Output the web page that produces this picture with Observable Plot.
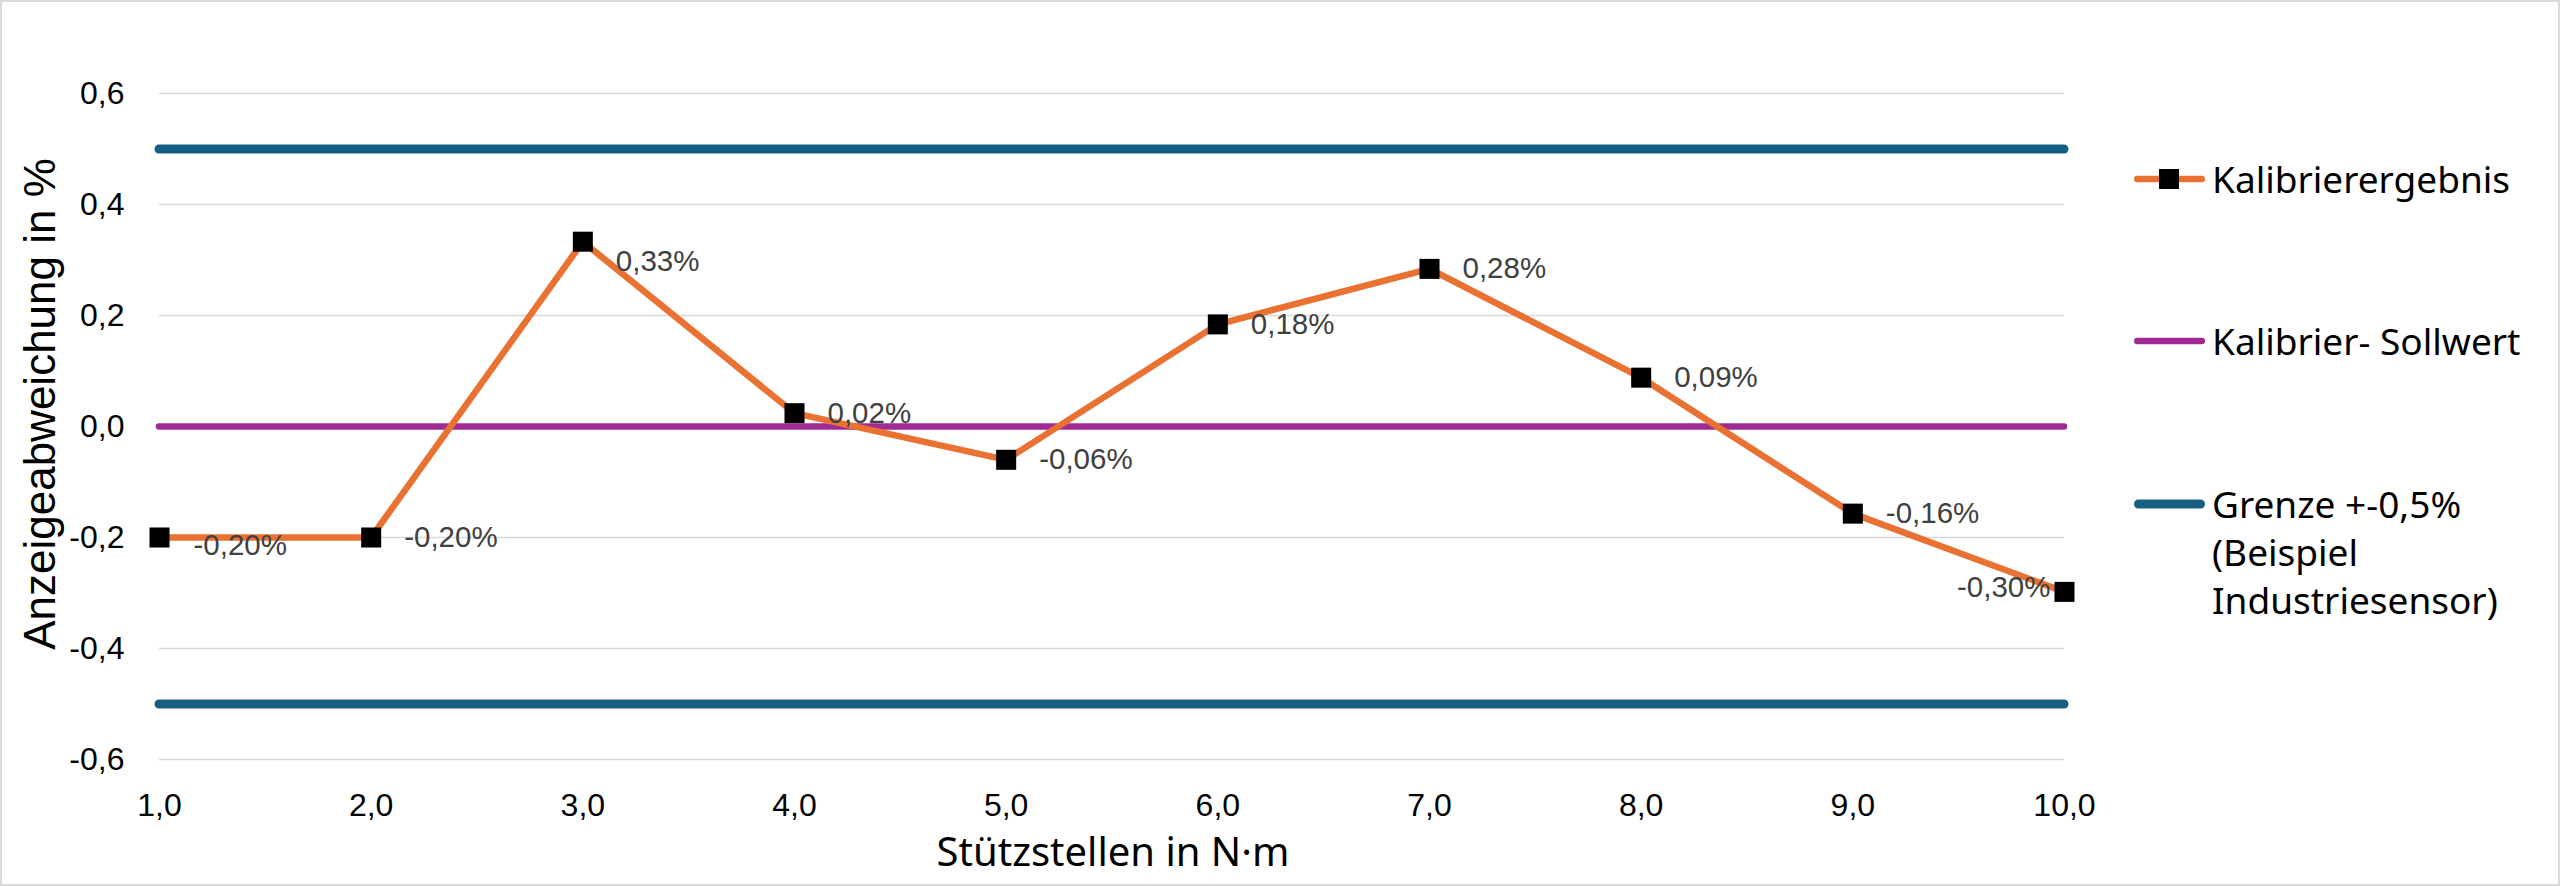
<!DOCTYPE html>
<html>
<head>
<meta charset="utf-8">
<script src="https://cdn.jsdelivr.net/npm/d3@7"></script>
<script src="https://cdn.jsdelivr.net/npm/@observablehq/plot@0.6"></script>
<style>
  body { margin: 0; background: #fff; }
  #wrap { position: relative; width: 2560px; height: 886px; overflow: hidden; background: #fff; }
  #chart { position: absolute; left: 0; top: 0; }
  #frame { position: absolute; left: 0; top: 0; width: 2560px; height: 886px; box-sizing: border-box; border: 2px solid #d9d9d9; pointer-events: none; }
  .ytitle { position: absolute; left: 40px; top: 404px; transform: translate(-50%, -50%) rotate(-90deg);
            font-family: "Liberation Sans", Arial, sans-serif; font-size: 44px; line-height: 1; white-space: nowrap; color: #000; }
  .xtitle { position: absolute; left: 1113px; top: 831px; transform: translateX(-50%);
            font-family: "Noto Sans", sans-serif; font-size: 40px; line-height: 1; white-space: nowrap; color: #000; }
  .legrow { position: absolute; left: 2133px; display: flex; align-items: flex-start; }
  .legrow svg { display: block; flex: none; }
  .legtext { margin-left: 5px; font-family: "Noto Sans", sans-serif; font-size: 37px; line-height: 48px; color: #000; white-space: nowrap; }
</style>
</head>
<body>
<div id="wrap">
  <div id="chart"></div>
  <div class="ytitle">Anzeigeabweichung in %</div>
  <div class="xtitle">Stützstellen in N·m</div>
  <div id="legend"></div>
  <div id="frame"></div>
</div>
<script>
// ---- data ----
const stuetzstellen = [1, 2, 3, 4, 5, 6, 7, 8, 9, 10];
const abweichung = [-0.20, -0.20, 0.333, 0.024, -0.06, 0.184, 0.284, 0.088, -0.157, -0.298];
const sollwert = [0];
const grenzen = [0.5, -0.5];
const yTicks = [-0.6, -0.4, -0.2, 0, 0.2, 0.4, 0.6];
const seriesNames = ["Kalibrierergebnis", "Kalibrier- Sollwert", "Grenze +-0,5%<br>(Beispiel<br>Industriesensor)"];

const colOrange = "#E97132", colPurple = "#A02B93", colBlue = "#156082";

const fmt1 = d => d.toFixed(1).replace(".", ",");
const fmtPct = v => v.toFixed(2).replace(".", ",") + "%";

const data = stuetzstellen.map((x, i) => ({x, y: abweichung[i], label: fmtPct(abweichung[i])}));
const xFirst = stuetzstellen[0], xLast = stuetzstellen[stuetzstellen.length - 1];

const labelStyle = {x: "x", y: "y", text: "label", fill: "#404040", fontSize: 29.5,
                    fontFamily: "Liberation Sans, Arial, sans-serif"};

const plot = Plot.plot({
  width: 2100,
  height: 886,
  marginLeft: 159,
  marginRight: 36,
  marginTop: 93,
  marginBottom: 127,
  x: {domain: [xFirst, xLast]},
  y: {domain: [yTicks[0], yTicks[yTicks.length - 1]]},
  style: {fontFamily: "Liberation Sans, Arial, sans-serif", fontSize: "32px", color: "#000", background: "#fff", overflow: "visible"},
  marks: [
    Plot.gridY(yTicks, {stroke: "#d9d9d9", strokeOpacity: 1, strokeWidth: 1.5}),
    Plot.axisY(yTicks, {tickSize: 0, tickPadding: 35, tickFormat: fmt1, label: null, fontSize: 32}),
    Plot.axisX(stuetzstellen, {tickSize: 0, tickPadding: 34, tickFormat: fmt1, label: null, fontSize: 32}),
    Plot.ruleY(grenzen, {x1: xFirst, x2: xLast, stroke: colBlue, strokeWidth: 9, strokeLinecap: "round"}),
    Plot.ruleY(sollwert, {x1: xFirst, x2: xLast, stroke: colPurple, strokeWidth: 6.5, strokeLinecap: "round"}),
    Plot.line(data, {x: "x", y: "y", stroke: colOrange, strokeWidth: 6.5, strokeLinejoin: "round"}),
    Plot.dot(data, {x: "x", y: "y", symbol: "square", r: 11.3, fill: "#000", stroke: "none"}),
    Plot.text(data, {...labelStyle, filter: (d, i) => i !== 0 && i !== 2 && i !== data.length - 1, textAnchor: "start", dx: 33}),
    Plot.text(data, {...labelStyle, filter: (d, i) => i === 0, textAnchor: "start", dx: 34, dy: 8}),
    Plot.text(data, {...labelStyle, filter: (d, i) => i === 2, textAnchor: "start", dx: 33, dy: 20}),
    Plot.text(data, {...labelStyle, filter: (d, i) => i === data.length - 1, textAnchor: "end", dx: -14, dy: -4})
  ]
});
document.getElementById("chart").appendChild(plot);

// ---- legend ----
const legend = document.getElementById("legend");
const legendRows = [
  {name: seriesNames[0], color: colOrange, w: 6.5, marker: true, y: 179},
  {name: seriesNames[1], color: colPurple, w: 6.5, marker: false, y: 341},
  {name: seriesNames[2], color: colBlue, w: 9, marker: false, y: 504}
];
legendRows.forEach(r => {
  const row = document.createElement("div");
  row.className = "legrow";
  row.style.top = (r.y - 24) + "px";
  const ns = "http://www.w3.org/2000/svg";
  const svg = document.createElementNS(ns, "svg");
  svg.setAttribute("width", 74); svg.setAttribute("height", 48);
  const ln = document.createElementNS(ns, "line");
  ln.setAttribute("x1", r.w / 2 + 1); ln.setAttribute("x2", 72 - r.w / 2);
  ln.setAttribute("y1", 24); ln.setAttribute("y2", 24);
  ln.setAttribute("stroke", r.color); ln.setAttribute("stroke-width", r.w);
  ln.setAttribute("stroke-linecap", "round");
  svg.appendChild(ln);
  if (r.marker) {
    const sq = document.createElementNS(ns, "rect");
    sq.setAttribute("x", 26); sq.setAttribute("y", 14); sq.setAttribute("width", 20); sq.setAttribute("height", 20);
    sq.setAttribute("fill", "#000");
    svg.appendChild(sq);
  }
  row.appendChild(svg);
  const t = document.createElement("div");
  t.className = "legtext";
  t.innerHTML = r.name;
  row.appendChild(t);
  legend.appendChild(row);
});
</script>
</body>
</html>
